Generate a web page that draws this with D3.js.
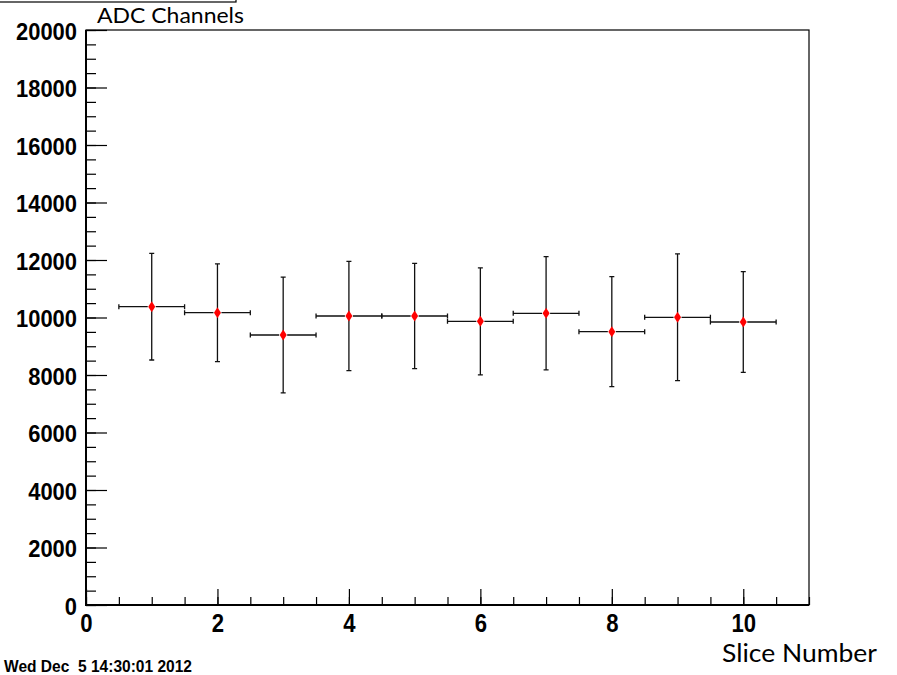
<!DOCTYPE html>
<html>
<head>
<meta charset="utf-8">
<script src="https://cdn.jsdelivr.net/npm/d3@7"></script>
<style>
  html, body { margin: 0; padding: 0; background: #fff; }
  svg { display: block; }
</style>
</head>
<body>
<svg id="chart" width="897" height="675"></svg>
<script>
// ---- data ----
const slices = [1, 2, 3, 4, 5, 6, 7, 8, 9, 10];
const values = [10376, 10167, 9391, 10052, 10052, 9867, 10145, 9507, 10007, 9843];
const yErrors = [1855, 1700, 2015, 1900, 1833, 1860, 1970, 1913, 2203, 1750];
const xErrors = [0.5, 0.5, 0.5, 0.5, 0.5, 0.5, 0.5, 0.5, 0.5, 0.5];
const xTickValues = [0, 2, 4, 6, 8, 10];
const yTickValues = [0, 2000, 4000, 6000, 8000, 10000, 12000, 14000, 16000, 18000, 20000];
const titleText = "ADC Channels";
const xTitleText = "Slice Number";
const dateText = "Wed Dec  5 14:30:01 2012";

// ---- layout ----
const svg = d3.select("#chart");
const L = 86, R = 809, T = 30, B = 605;
const x = d3.scaleLinear().domain([0, 11]).range([L, R]);
const y = d3.scaleLinear().domain([0, 20000]).range([B, T]);

const tickFont = "'Liberation Sans', Arial, sans-serif";
const labelFont = "Lato, 'Open Sans', sans-serif";

// title pave box (top-left)
svg.append("rect")
  .attr("x", -2).attr("y", -10).attr("width", 238).attr("height", 12)
  .attr("fill", "none").attr("stroke", "#000").attr("stroke-width", 1.2);

svg.append("text")
  .attr("x", 97).attr("y", 23)
  .attr("font-family", labelFont).attr("font-size", 21)
  .attr("textLength", 147).attr("lengthAdjust", "spacingAndGlyphs")
  .attr("fill", "#000")
  .text(titleText);

// minor Y ticks
const yMinor = d3.range(0, 20001, 500);
svg.append("g").attr("transform", `translate(${L},0)`)
  .call(d3.axisLeft(y).tickValues(yMinor).tickSize(-10).tickFormat(""))
  .call(g => g.select(".domain").remove())
  .call(g => g.selectAll("line").attr("stroke", "#000").attr("stroke-width", 1.2));

// major Y ticks with labels
svg.append("g").attr("transform", `translate(${L},0)`)
  .call(d3.axisLeft(y).tickValues(yTickValues).tickSize(-21).tickPadding(9).tickFormat(d3.format("d")))
  .call(g => g.select(".domain").remove())
  .call(g => g.selectAll("line").attr("stroke", "#000").attr("stroke-width", 1.2))
  .call(g => g.selectAll("text")
    .attr("font-family", tickFont).attr("font-weight", "bold").attr("font-size", 23.7)
    .attr("fill", "#000").attr("dy", 9)
    .attr("textLength", d => String(d).length * 12.2)
    .attr("lengthAdjust", "spacingAndGlyphs"));

// minor X ticks
const xMinor = d3.range(0, 11.01, 0.5);
svg.append("g").attr("transform", `translate(0,${B})`)
  .call(d3.axisBottom(x).tickValues(xMinor).tickSize(-8).tickFormat(""))
  .call(g => g.select(".domain").remove())
  .call(g => g.selectAll("line").attr("stroke", "#000").attr("stroke-width", 1.2));

// major X ticks with labels
svg.append("g").attr("transform", `translate(0,${B})`)
  .call(d3.axisBottom(x).tickValues(xTickValues).tickSize(-16).tickPadding(8).tickFormat(d3.format("d")))
  .call(g => g.select(".domain").remove())
  .call(g => g.selectAll("line").attr("stroke", "#000").attr("stroke-width", 1.2))
  .call(g => g.selectAll("text")
    .attr("font-family", tickFont).attr("font-weight", "bold").attr("font-size", 26.5)
    .attr("fill", "#000").attr("y", 27).attr("dy", 0)
    .attr("textLength", d => String(d).length * 12.3)
    .attr("lengthAdjust", "spacingAndGlyphs"));

// frame
svg.append("rect")
  .attr("x", L).attr("y", T).attr("width", R - L).attr("height", B - T)
  .attr("fill", "none").attr("stroke", "#000").attr("stroke-width", 1.2);
svg.append("line").attr("x1", L).attr("x2", L).attr("y1", T).attr("y2", B + 1)
  .attr("stroke", "#000").attr("stroke-width", 2);
svg.append("line").attr("x1", L - 1).attr("x2", R).attr("y1", B).attr("y2", B)
  .attr("stroke", "#000").attr("stroke-width", 2);

// x axis title
svg.append("text")
  .attr("x", 877).attr("y", 662).attr("text-anchor", "end")
  .attr("font-family", labelFont).attr("font-size", 25)
  .attr("textLength", 155).attr("lengthAdjust", "spacingAndGlyphs")
  .attr("fill", "#000")
  .text(xTitleText);

// date stamp
svg.append("text")
  .attr("x", 4).attr("y", 672)
  .attr("font-family", tickFont).attr("font-weight", "bold").attr("font-size", 16)
  .attr("textLength", 188).attr("lengthAdjust", "spacingAndGlyphs")
  .attr("fill", "#000")
  .style("white-space", "pre")
  .text(dateText);

// ---- error bars + markers ----
const data = slices.map((s, i) => ({ x: s, y: values[i], ex: xErrors[i], ey: yErrors[i] }));
const gap = 4, cap = 2.5;
const eb = svg.append("g").attr("stroke", "#111").attr("stroke-width", 1.3).attr("fill", "none");
data.forEach(d => {
  const cx = x(d.x), cy = y(d.y);
  const xl = x(d.x - d.ex), xr = x(d.x + d.ex);
  const yt = y(d.y + d.ey), yb = y(d.y - d.ey);
  const p = d3.path();
  p.moveTo(xl, cy); p.lineTo(cx - gap, cy);
  p.moveTo(cx + gap, cy); p.lineTo(xr, cy);
  p.moveTo(cx, yt); p.lineTo(cx, cy - gap);
  p.moveTo(cx, cy + gap); p.lineTo(cx, yb);
  // caps
  p.moveTo(xl, cy - cap); p.lineTo(xl, cy + cap);
  p.moveTo(xr, cy - cap); p.lineTo(xr, cy + cap);
  p.moveTo(cx - cap, yt); p.lineTo(cx + cap, yt);
  p.moveTo(cx - cap, yb); p.lineTo(cx + cap, yb);
  eb.append("path").attr("d", p.toString());
});

svg.append("g").selectAll("path.marker")
  .data(data).enter().append("path")
  .attr("class", "marker")
  .attr("d", d => {
    const cx = x(d.x), cy = y(d.y);
    return `M${cx},${cy - 5.5}L${cx + 3.5},${cy}L${cx},${cy + 5.5}L${cx - 3.5},${cy}Z`;
  })
  .attr("fill", "#ff0000");
</script>
</body>
</html>
